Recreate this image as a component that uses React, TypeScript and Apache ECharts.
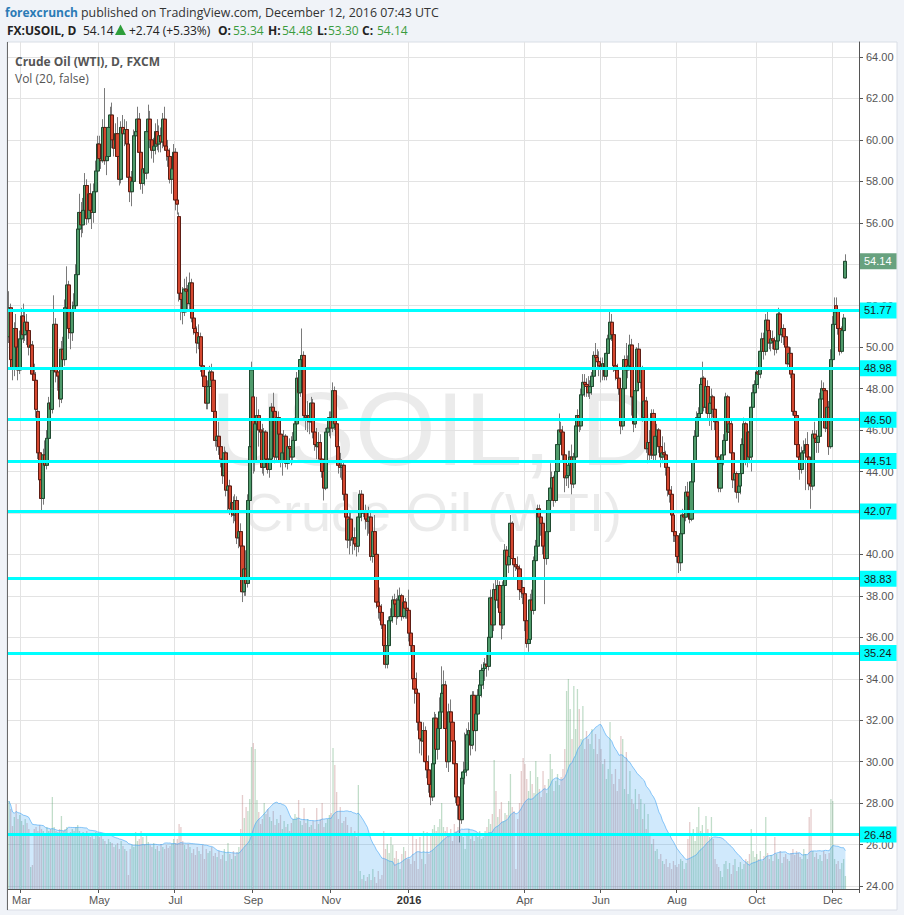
import React, { useEffect, useRef } from 'react';
import * as echarts from 'echarts';

// ---------------- Daily candles FX:USOIL (FXCM) : [open, close, low, high] ----------------
const c2015_02 = [[50.5,51.9,50.2,52.7],[51.9,49.4,49.0,52.1],[49.4,49.0,48.4,50.1],[49.0,50.9,48.6,51.2],[50.9,50.0,49.5,51.6],[50.0,48.9,48.4,50.4],[48.9,50.4,48.7,50.8]];
const c2015_03 = [[50.4,51.5,50.1,51.9],[51.5,50.6,50.2,52.1],[50.6,51.2,50.3,51.7],[51.2,50.8,50.1,51.6],[50.8,50.0,49.6,51.2],[50.0,50.1,49.5,50.7],[50.1,48.7,48.4,50.3],[48.7,48.4,47.6,49.2],[48.4,47.0,46.6,48.8],[46.9,44.9,44.6,47.2],[44.9,43.6,43.3,45.2],[43.6,42.7,42.1,44.0],[42.7,44.8,42.4,45.1],[44.8,44.3,43.8,45.5],[44.3,45.6,44.1,46.0],[45.6,47.3,45.4,47.6],[47.3,47.0,46.5,47.9],[47.0,48.9,46.8,49.3],[48.9,51.1,48.7,52.5],[51.1,48.8,48.3,51.4],[48.8,48.6,47.9,49.4],[48.6,47.5,47.1,49.0]];
const c2015_04 = [[47.5,49.9,47.3,50.3],[49.9,49.4,48.6,50.5],[49.4,51.9,49.1,52.3],[51.9,53.0,51.6,53.9],[53.0,50.9,50.4,53.2],[50.9,50.7,49.9,51.6],[50.7,51.8,50.3,52.2],[51.8,52.0,51.2,52.6],[52.0,53.5,51.7,54.0],[53.5,55.7,53.3,56.2],[55.7,56.5,55.4,57.4],[56.5,55.9,55.3,57.0],[55.9,56.6,55.5,57.2],[56.6,57.8,56.3,58.4],[57.8,56.2,55.9,58.1],[56.2,57.4,56.0,57.8],[57.4,56.6,56.2,57.9],[56.6,56.5,55.7,57.2],[56.5,57.5,56.0,57.9],[57.5,58.5,57.0,59.0],[58.5,59.8,58.2,60.2]];
const c2015_05 = [[59.8,59.1,58.7,60.2],[59.1,59.0,58.6,59.8],[59.0,60.6,58.9,61.0],[60.6,59.0,58.8,62.5],[59.0,59.2,58.3,59.6],[59.2,60.6,59.0,61.0],[60.6,61.2,60.0,61.6],[61.2,60.0,59.6,61.8],[60.0,59.6,59.2,61.0],[59.6,60.3,59.4,60.8],[60.3,59.2,58.9,61.1],[59.2,58.1,57.8,60.5],[58.1,60.6,57.9,60.9],[60.6,60.3,59.8,61.2],[60.3,60.5,59.7,61.0],[60.5,59.8,59.4,60.9],[59.8,58.2,57.8,60.1],[58.2,57.5,57.0,58.7],[57.5,58.0,56.8,58.5],[58.0,60.2,57.8,60.5]];
const c2015_06 = [[60.2,60.4,59.6,60.9],[60.4,61.0,59.9,61.6],[61.0,59.4,59.1,61.3],[59.4,57.9,57.6,59.7],[57.9,58.6,57.4,59.0],[58.6,58.4,57.8,59.3],[58.4,60.4,58.1,60.8],[60.4,61.0,60.1,61.7],[61.0,60.0,59.6,61.4],[60.0,59.5,59.1,60.4],[59.5,59.7,58.9,60.1],[59.7,60.4,59.3,60.8],[60.4,59.8,59.5,61.0],[59.8,60.2,59.4,60.7],[60.2,59.9,59.4,60.6],[59.9,61.0,59.6,61.3],[61.0,59.7,59.5,61.6],[59.7,59.5,59.0,60.3],[59.5,59.2,58.7,60.0],[59.2,58.1,57.9,59.6],[58.1,58.6,57.4,59.0],[58.6,59.4,58.2,59.8]];
const c2015_07 = [[59.4,57.1,56.6,59.6],[57.1,56.9,56.4,57.8],[56.3,52.6,52.2,56.5],[52.6,52.3,51.3,53.0],[52.3,51.7,51.1,52.9],[51.7,52.8,51.5,53.3],[52.8,52.7,52.2,53.4],[52.7,52.1,51.7,53.0],[52.1,53.1,51.8,53.6],[53.1,51.4,51.2,53.3],[51.4,50.9,50.6,51.8],[50.9,50.7,50.4,51.3],[50.7,50.2,49.7,51.0],[50.2,50.5,49.9,51.1],[50.5,49.1,48.8,50.7],[49.1,48.6,48.3,49.6],[48.6,48.1,47.7,49.0],[48.1,47.3,47.0,48.3],[47.3,48.1,47.0,48.4],[48.1,48.8,47.6,49.1],[48.8,48.4,48.0,49.2],[48.4,46.9,46.6,48.6]];
const c2015_08 = [[46.9,45.5,45.2,47.1],[45.5,45.7,45.0,46.2],[45.7,45.2,44.8,46.4],[45.2,44.6,44.2,45.6],[44.6,43.8,43.4,44.9],[43.8,44.9,43.6,45.2],[44.9,43.1,42.8,45.0],[43.1,43.3,42.0,43.8],[43.3,42.2,41.9,43.6],[42.2,42.5,41.8,42.9],[42.5,41.9,41.5,42.8],[41.9,42.6,41.6,42.9],[42.6,40.8,40.5,42.8],[40.8,41.1,40.3,41.6],[41.1,40.4,39.9,41.5],[40.4,38.2,37.7,40.6],[38.2,39.3,38.0,39.8],[39.3,38.6,38.0,40.2],[38.6,42.6,38.4,42.9],[42.6,45.2,42.3,45.5],[45.2,48.9,44.5,49.3]];
const c2015_09 = [[47.6,44.5,43.9,48.0],[44.5,46.3,44.0,46.6],[46.3,46.7,45.9,47.6],[46.7,46.0,45.2,47.0],[46.0,45.9,44.6,46.6],[45.9,44.2,43.9,46.3],[44.2,45.9,43.8,46.1],[45.9,44.6,44.3,46.0],[44.6,44.1,43.9,44.9],[44.1,44.6,43.7,44.9],[44.6,47.1,44.4,47.3],[47.1,46.9,46.4,47.8],[46.9,44.7,44.4,47.0],[44.7,46.6,44.5,46.9],[46.6,45.8,45.3,46.9],[45.8,44.5,44.2,46.1],[44.5,44.9,43.8,45.2],[44.9,45.7,44.6,46.0],[45.7,44.4,44.2,45.8],[44.4,45.2,44.1,45.5],[45.2,45.1,44.6,45.6]];
const c2015_10 = [[45.1,44.7,44.3,45.7],[44.7,45.5,44.4,45.9],[45.5,46.3,45.2,46.6],[46.3,48.5,46.1,48.8],[48.5,47.8,47.2,49.1],[47.8,49.4,47.6,49.6],[49.4,49.6,48.9,50.9],[49.6,46.7,46.5,49.8],[46.7,46.6,46.0,47.3],[46.6,46.7,45.9,47.4],[46.7,46.4,45.8,47.1],[46.4,47.3,46.1,47.6],[47.3,45.9,45.6,47.5],[45.9,45.3,45.0,46.2],[45.3,45.2,44.6,46.1],[45.2,45.4,44.8,45.9],[45.4,44.6,44.3,45.8],[44.6,44.0,43.7,44.8],[44.0,43.2,42.6,44.2],[43.2,45.9,43.1,46.1],[45.9,46.1,45.5,46.5],[46.1,46.6,45.7,46.9]];
const c2015_11 = [[46.6,46.1,45.6,46.9],[46.1,47.9,45.9,48.3],[47.9,46.3,46.0,48.1],[46.3,45.2,44.9,46.6],[45.2,44.3,43.9,45.5],[44.3,44.2,43.7,44.9],[44.2,44.3,43.6,44.6],[44.3,42.9,42.6,44.5],[42.9,41.8,41.5,43.2],[41.8,40.7,40.3,42.0],[40.7,41.7,40.0,42.0],[41.7,40.7,40.4,42.1],[40.7,40.8,40.0,41.2],[40.8,40.5,40.2,41.3],[40.5,40.4,39.9,41.0],[40.4,41.8,40.1,42.0],[41.8,42.9,41.5,43.1],[42.9,42.0,41.6,43.1],[42.0,42.1,41.8,42.4],[42.1,41.7,41.2,42.4],[41.7,41.6,40.9,42.0]];
const c2015_12 = [[41.6,41.8,41.0,42.3],[41.8,39.9,39.7,42.0],[39.9,41.1,39.6,41.6],[41.1,40.0,39.5,41.9],[40.0,37.7,37.4,40.2],[37.7,37.5,36.9,38.3],[37.5,37.2,36.8,38.4],[37.2,36.6,36.4,37.6],[36.6,35.6,35.3,36.8],[35.6,34.7,34.5,35.9],[34.7,35.6,34.5,35.9],[35.6,36.8,35.2,37.0],[36.8,37.0,36.3,37.4],[37.0,37.8,36.7,38.0],[37.8,37.6,37.2,38.1],[37.6,37.0,36.6,37.9],[37.0,37.8,36.9,38.3],[37.8,38.0,37.5,38.4],[38.0,37.0,36.8,38.1],[37.0,37.7,36.9,38.0],[37.7,37.4,36.9,37.9],[37.4,37.3,36.9,37.6]];
const c2016_01 = [[37.3,36.2,35.8,38.3],[36.2,35.6,35.2,36.6],[35.6,34.0,33.8,35.8],[34.0,33.5,32.8,34.4],[33.5,33.3,32.9,34.3],[33.3,31.9,31.5,33.5],[31.9,31.1,30.4,32.1],[31.1,31.0,30.3,31.8],[31.0,31.5,30.4,31.9],[31.5,30.0,29.6,31.7],[30.0,29.6,29.2,30.2],[29.6,28.9,28.5,30.3],[28.9,28.3,27.9,29.5],[28.3,29.9,28.1,30.4],[29.9,32.1,29.7,32.4],[32.1,30.6,30.3,32.3],[30.6,31.6,30.1,32.0],[31.6,32.4,30.9,33.1],[32.4,33.3,31.9,34.6],[33.3,33.7,32.8,34.4]];
const c2016_02 = [[33.7,31.6,31.3,33.9],[31.6,30.0,29.7,32.0],[30.0,32.4,29.5,32.8],[32.4,31.9,31.0,33.0],[31.9,31.0,30.5,32.3],[31.0,29.9,29.3,31.2],[29.9,28.3,28.0,30.3],[28.3,27.9,27.2,29.6],[27.9,27.2,26.1,28.3],[27.2,29.2,27.0,29.5],[29.2,29.5,28.9,30.0],[29.5,29.6,28.9,31.4],[29.6,31.3,29.3,31.6],[31.3,31.5,30.7,31.9],[31.5,30.8,30.3,31.7],[30.8,33.2,30.6,33.4],[33.2,31.5,31.3,33.4],[31.5,32.3,30.5,32.6],[32.3,33.2,32.0,33.5],[33.2,33.7,32.9,34.3],[33.7,34.4,33.1,34.7]];
const c2016_03 = [[34.4,34.5,33.5,34.8],[34.5,34.7,33.9,35.0],[34.7,34.6,34.1,35.2],[34.6,36.0,34.4,36.4],[36.0,37.9,35.9,38.3],[37.9,36.6,36.2,38.0],[36.6,38.3,36.3,38.6],[38.3,37.8,37.1,38.8],[37.8,38.5,37.4,38.9],[38.5,37.2,36.9,38.7],[37.2,36.6,35.9,37.5],[36.6,38.5,36.4,38.7],[38.5,40.2,38.3,40.5],[40.2,39.5,38.8,40.4],[39.5,39.9,39.1,40.6],[39.9,41.5,39.6,41.9],[41.5,39.8,39.6,41.6],[39.8,39.5,38.9,40.0],[39.5,39.4,39.2,39.7],[39.4,39.3,38.9,39.9],[39.3,38.3,37.8,39.5],[38.3,38.2,37.9,39.0],[38.4,38.1,37.6,38.9]];
const c2016_04 = [[38.1,36.8,36.3,38.3],[36.8,35.7,35.5,37.0],[35.7,35.9,35.3,36.3],[35.9,37.8,35.7,38.1],[37.8,37.3,36.9,38.3],[37.3,39.7,37.1,39.9],[39.7,40.4,39.3,40.7],[40.4,42.2,40.2,42.4],[42.2,41.8,41.3,42.4],[41.8,41.5,40.9,42.0],[41.5,40.4,40.0,41.7],[40.4,39.8,37.6,40.6],[39.8,41.1,39.5,41.5],[41.1,42.6,40.9,42.8],[42.6,43.2,42.3,44.4],[43.2,43.7,42.9,44.0],[43.7,42.6,42.3,43.8],[42.6,44.0,42.5,44.2],[44.0,45.3,43.7,45.5],[45.3,46.0,44.9,46.8],[46.0,45.9,45.4,46.4]];
const c2016_05 = [[45.9,44.8,44.5,46.2],[44.8,43.7,43.0,45.0],[43.7,43.8,43.3,44.5],[43.8,44.3,43.2,45.0],[44.3,44.7,43.8,45.0],[44.7,43.4,42.9,45.3],[43.4,44.7,43.2,44.9],[44.7,46.2,44.6,46.6],[46.2,46.7,45.7,47.0],[46.7,46.2,45.9,46.9],[46.2,47.7,46.0,48.0],[47.7,48.3,47.6,48.7],[48.3,48.2,47.6,48.7],[48.2,48.1,47.6,48.5],[48.1,47.8,47.6,48.6],[47.8,48.1,47.5,48.4],[48.1,48.6,47.7,48.8],[48.6,49.6,48.5,49.8],[49.6,49.5,49.0,50.2],[49.5,49.3,48.9,49.9],[49.3,49.1,48.6,49.8]];
const c2016_06 = [[49.1,49.0,48.3,49.5],[49.0,49.2,48.4,49.5],[49.2,48.6,48.4,49.6],[48.6,49.7,48.4,49.9],[49.7,50.4,49.5,50.6],[50.4,51.2,50.1,51.7],[51.2,50.6,50.3,51.6],[50.6,49.1,48.8,50.7],[49.1,48.9,48.4,49.5],[48.9,48.5,48.2,49.2],[48.5,48.0,47.7,48.9],[48.0,46.2,45.8,48.2],[46.2,48.0,46.0,48.2],[48.0,49.4,47.8,49.6],[49.4,48.9,48.6,50.2],[48.9,49.1,48.5,49.6],[49.1,50.1,48.9,50.6],[50.1,47.6,46.7,50.4],[47.6,46.3,45.9,47.7],[46.3,47.9,46.1,48.0],[47.9,49.9,47.7,50.0],[49.9,48.3,48.1,50.2]];
const c2016_07 = [[48.3,49.0,48.0,49.3],[49.0,46.6,46.4,49.1],[46.6,47.4,46.2,47.9],[47.4,45.1,44.9,47.6],[45.1,45.4,44.4,45.9],[45.4,44.8,44.5,46.0],[44.8,46.8,44.6,47.0],[46.8,44.8,44.5,47.0],[44.8,45.7,44.5,46.0],[45.7,46.0,45.2,46.3],[46.0,45.2,44.9,46.1],[45.2,44.7,44.2,45.4],[44.7,44.9,44.4,45.7],[44.9,44.8,44.2,45.4],[44.8,44.2,43.8,45.0],[44.2,43.1,42.8,44.3],[43.1,42.9,42.5,43.4],[42.9,41.9,41.5,43.3],[41.9,41.1,40.6,42.1],[41.1,40.9,40.6,41.7]];
const c2016_08 = [[40.9,39.9,39.6,41.0],[39.9,39.6,39.1,40.1],[39.6,41.0,39.2,41.2],[41.0,41.9,40.7,42.2],[41.9,41.8,41.2,42.4],[41.8,43.0,41.6,43.3],[43.0,42.8,42.3,43.5],[42.8,41.7,41.5,43.1],[41.7,43.5,41.6,43.7],[43.5,44.5,43.2,44.6],[44.5,45.7,44.3,46.0],[45.7,46.6,45.4,46.9],[46.6,46.8,45.7,47.1],[46.8,48.2,46.6,48.5],[48.2,48.5,47.9,49.3],[48.5,47.1,46.9,48.6],[47.1,48.1,46.8,48.3],[48.1,46.8,46.5,48.4],[46.8,47.3,46.2,47.6],[47.3,47.6,46.0,48.0],[47.6,47.0,46.6,47.7],[47.0,46.4,46.0,47.1],[46.4,44.7,44.5,46.5]];
const c2016_09 = [[44.7,43.2,43.0,44.9],[43.2,44.4,43.0,44.6],[44.4,44.8,43.9,45.1],[44.8,45.5,44.3,45.8],[45.5,47.6,45.3,47.8],[47.6,45.9,45.6,47.7],[45.9,46.3,44.9,46.5],[46.3,44.9,44.6,46.5],[44.9,43.6,43.2,45.0],[43.6,43.9,43.0,44.1],[43.9,43.0,42.7,44.0],[43.0,43.3,42.5,43.7],[43.3,43.9,42.9,44.1],[43.9,45.3,43.5,45.6],[45.3,46.3,45.1,46.6],[46.3,44.5,44.3,46.4],[44.5,45.9,44.2,46.1],[45.9,44.7,44.4,46.0],[44.7,47.1,44.0,47.4],[47.1,47.8,46.8,48.2],[47.8,48.2,47.4,48.4]];
const c2016_10 = [[48.2,48.8,48.0,49.0],[48.8,48.7,48.0,49.1],[48.7,49.8,48.5,49.9],[49.8,50.4,49.5,50.7],[50.4,49.8,49.4,50.7],[49.8,51.3,49.6,51.6],[51.3,50.8,50.4,51.7],[50.8,50.2,49.9,51.0],[50.2,50.4,49.8,50.7],[50.4,50.3,49.9,50.8],[50.3,49.9,49.6,50.5],[49.9,50.3,49.7,50.6],[50.3,51.6,50.0,51.9],[51.6,50.6,50.3,51.8],[50.6,50.9,50.2,51.1],[50.9,50.5,50.1,51.1],[50.5,50.0,49.6,50.7],[50.0,49.2,48.9,50.2],[49.2,49.7,48.8,49.9],[49.7,48.7,48.5,50.0],[48.7,46.9,46.7,48.8]];
const c2016_11 = [[46.9,46.7,46.2,47.4],[46.7,45.3,45.0,46.9],[45.3,44.7,44.3,45.6],[44.7,44.1,43.6,45.0],[44.1,44.9,43.9,45.2],[44.9,45.0,44.4,45.5],[45.0,45.3,43.1,45.6],[45.3,44.7,44.3,45.9],[44.7,43.4,43.1,44.8],[43.4,43.3,42.2,43.9],[43.3,45.8,43.1,46.0],[45.8,45.6,45.1,46.4],[45.6,45.4,44.9,46.0],[45.4,45.7,44.9,46.2],[45.7,47.5,45.6,47.8],[47.5,48.0,47.4,48.4],[48.0,47.9,47.3,48.3],[47.9,46.1,45.9,48.0],[46.1,47.1,45.9,47.3],[47.1,45.2,44.8,47.4],[45.2,49.4,45.1,49.9]];
const c2016_12 = [[49.4,51.1,49.2,51.5],[51.1,51.7,50.8,52.4],[52.0,51.8,51.1,52.4],[51.8,50.9,50.6,51.9],[50.9,49.8,49.6,51.0],[49.8,50.8,49.7,51.0],[50.8,51.4,50.5,51.6],[53.34,54.14,53.30,54.48]];

// ---------------- Daily volume (relative units) ----------------
const v2015_02 = [88,80,63,72,85,70,74];
const v2015_03 = [68,64,70,66,60,22,24,60,62,58,64,60,58,56,62,58,60,92,62,58,57,60];
const v2015_04 = [73,58,60,62,55,57,60,58,62,64,58,55,57,54,58,56,52,55,50,57,53];
const v2015_05 = [52,55,50,48,45,50,47,46,42,44,46,40,48,43,40,38,14,40,44,42];
const v2015_06 = [57,48,50,58,52,45,55,47,44,42,46,40,43,38,45,42,40,44,41,43,45,50];
const v2015_07 = [46,50,65,62,48,44,40,45,42,36,40,34,42,38,35,44,30,40,36,38,42,33];
const v2015_08 = [36,32,38,30,34,40,28,46,35,30,38,33,37,42,60,94,71,82,78,90,142];
const v2015_09 = [146,140,89,77,65,70,86,75,80,72,68,78,64,70,66,74,60,68,62,65,58];
const v2015_10 = [66,70,75,72,89,68,64,81,66,70,62,64,68,60,81,65,70,86,62,66,70,74];
const v2015_11 = [76,141,124,97,70,82,66,68,72,64,55,62,56,58,52,104,18,10,14,8,12];
const v2015_12 = [15,9,20,12,6,18,10,14,58,40,45,36,52,44,31,38,30,20,35,42,38,30];
const v2016_01 = [30,25,55,28,50,20,52,30,58,25,57,35,55,60,64,58,62,70,86,62];
const v2016_02 = [58,62,55,60,48,65,58,62,66,55,52,40,56,60,50,54,48,56,52,58,50];
const v2016_03 = [52,58,62,70,65,75,129,98,72,80,87,68,76,74,88,115,82,78,20,70,86,118,131];
const v2016_04 = [125,110,98,118,105,96,128,112,100,92,118,104,96,110,135,120,98,108,115,104,112];
const v2016_05 = [120,140,198,210,180,150,203,160,200,180,150,183,140,158,150,145,160,140,155,135,150];
const v2016_06 = [140,125,130,110,120,167,115,105,120,98,110,153,150,100,137,95,118,90,85,100,80,95];
const v2016_07 = [90,70,85,60,75,55,45,50,38,40,30,35,28,25,30,22,26,20,28,24];
const v2016_08 = [22,25,30,28,20,26,50,67,55,60,48,62,82,58,64,55,73,60,52,72,50,30,25];
const v2016_09 = [22,18,12,25,28,20,26,15,24,30,18,22,27,20,25,30,28,35,60,38,32];
const v2016_10 = [35,30,38,28,33,72,36,30,34,28,52,35,30,38,26,32,35,30,28,36,40];
const v2016_11 = [34,38,36,32,30,40,35,30,72,80,38,32,36,30,34,28,38,35,30,36,90];
const v2016_12 = [88,30,25,28,20,26,30,13];

// ---------------- Month order and axis labels ----------------
const monthKeys = ['2015-02','2015-03','2015-04','2015-05','2015-06','2015-07','2015-08','2015-09','2015-10','2015-11','2015-12','2016-01','2016-02','2016-03','2016-04','2016-05','2016-06','2016-07','2016-08','2016-09','2016-10','2016-11','2016-12'];
const monthTickLabels = ['', 'Mar', '', 'May', '', 'Jul', '', 'Sep', '', 'Nov', '', '2016', '', '', 'Apr', '', 'Jun', '', 'Aug', '', 'Oct', '', 'Dec'];
const candleMonths = [c2015_02,c2015_03,c2015_04,c2015_05,c2015_06,c2015_07,c2015_08,c2015_09,c2015_10,c2015_11,c2015_12,c2016_01,c2016_02,c2016_03,c2016_04,c2016_05,c2016_06,c2016_07,c2016_08,c2016_09,c2016_10,c2016_11,c2016_12];
const volumeMonths = [v2015_02,v2015_03,v2015_04,v2015_05,v2015_06,v2015_07,v2015_08,v2015_09,v2015_10,v2015_11,v2015_12,v2016_01,v2016_02,v2016_03,v2016_04,v2016_05,v2016_06,v2016_07,v2016_08,v2016_09,v2016_10,v2016_11,v2016_12];
const rightPadBars = 7;

// horizontal support / resistance levels
const levelLines = [51.77, 48.98, 46.50, 44.51, 42.07, 38.83, 35.24, 26.48];
const volMaPeriod = 20;

// price axis (tick labels fully covered by the level boxes in the original are not drawn)
const priceMin = 24;
const priceMax = 64;
const priceStep = 2;
const coveredPriceTicks = [42, 54];

const AXIS_FONT = '"Liberation Sans", Arial, sans-serif';
const UI_FONT = '"Open Sans", "Noto Sans", sans-serif';

export default function App() {
  const ref = useRef<HTMLDivElement>(null);

  useEffect(() => {
    if (!ref.current) return;
    const chart = echarts.init(ref.current, undefined, { renderer: 'svg' });

    const cats: string[] = [];
    const candles: number[][] = [];
    const vols: number[] = [];
    const tickAt: Record<number, string> = {};
    candleMonths.forEach((m, mi) => {
      if (monthTickLabels[mi]) tickAt[cats.length] = monthTickLabels[mi];
      m.forEach((c, j) => {
        cats.push(monthKeys[mi] + '#' + (j + 1));
        candles.push(c);
        vols.push(volumeMonths[mi][j]);
      });
    });
    for (let k = 0; k < rightPadBars; k++) cats.push('pad' + k);

    const ma = vols.map((_, i) => {
      const s = Math.max(0, i - volMaPeriod + 1);
      let sum = 0;
      for (let k = s; k <= i; k++) sum += vols[k];
      return +(sum / (i - s + 1)).toFixed(2);
    });

    const isTick = (idx: number) => tickAt[idx] !== undefined;
    const last = candles[candles.length - 1];
    const lastClose = last[1];

    const txt = (x: number, y: number, text: string, fill: string, font: string, z = 10) => ({
      type: 'text', x, y, z, silent: true,
      style: { text, fill, font, align: 'left', verticalAlign: 'middle', textAlign: 'left', textVerticalAlign: 'middle' },
    });
    const green = '#3a9c3e';
    const dark = '#222';

    const levelLabel = (bg: string, color: string) => ({
      show: true, position: 'end', distance: 1,
      formatter: (p: any) => Number(p.value).toFixed(2),
      backgroundColor: bg, color, padding: [3, 5, 2, 4], fontSize: 11, fontFamily: AXIS_FONT,
    });

    const option: any = {
      animation: false,
      backgroundColor: 'transparent',
      grid: [
        { left: 8, right: 45, top: 57, bottom: 29 },
        { left: 8, right: 45, top: 42, bottom: 26 },
      ],
      xAxis: [
        { type: 'category', gridIndex: 0, data: cats, boundaryGap: true, show: false },
        {
          type: 'category', gridIndex: 1, data: cats, boundaryGap: true,
          axisLine: { show: true, lineStyle: { color: '#555', width: 1 } },
          axisTick: { show: true, interval: (i: number) => isTick(i), length: 4, lineStyle: { color: '#555' } },
          axisLabel: {
            interval: (i: number) => isTick(i),
            formatter: (_v: string, i: number) => (tickAt[i] === '2016' ? '{b|2016}' : tickAt[i] || ''),
            color: '#555', fontSize: 11, fontFamily: AXIS_FONT, margin: 5,
            rich: { b: { fontWeight: 'bold', color: '#333', fontSize: 11, fontFamily: AXIS_FONT } },
          },
          splitLine: { show: true, interval: (i: number) => isTick(i), lineStyle: { color: '#e3e3e3', width: 1 } },
        },
      ],
      yAxis: [
        {
          type: 'value', gridIndex: 0, position: 'right', min: priceMin, max: priceMax, interval: priceStep,
          axisLine: { show: false },
          axisTick: { show: true, length: 4, lineStyle: { color: '#555' } },
          axisLabel: {
            formatter: (v: number) => (coveredPriceTicks.includes(v) ? '' : v.toFixed(2)),
            color: '#555', fontSize: 11, fontFamily: AXIS_FONT, margin: 7,
          },
          splitLine: { show: true, lineStyle: { color: '#e3e3e3', width: 1 } },
        },
        {
          type: 'value', gridIndex: 1, position: 'right', min: 0, max: 847,
          axisLine: { show: true, lineStyle: { color: '#555', width: 1 } },
          axisTick: { show: false }, axisLabel: { show: false }, splitLine: { show: false },
        },
      ],
      graphic: [
        { type: 'rect', z: -10, silent: true, shape: { x: 7, y: 42, width: 890, height: 868 }, style: { fill: '#ffffff', stroke: '#d9dee6', lineWidth: 1 } },
        { type: 'line', z: 5, silent: true, shape: { x1: 7.5, y1: 42, x2: 7.5, y2: 910 }, style: { stroke: '#6a6a6a', lineWidth: 1 } },
        { type: 'text', z: -5, silent: true, x: 433, y: 429, style: { text: 'USOIL, D', fill: 'rgba(0,0,0,0.08)', font: '104px ' + AXIS_FONT, align: 'center', verticalAlign: 'middle', textAlign: 'center', textVerticalAlign: 'middle' } },
        { type: 'text', z: -5, silent: true, x: 433, y: 512, style: { text: 'Crude Oil (WTI)', fill: 'rgba(0,0,0,0.08)', font: '54px ' + AXIS_FONT, align: 'center', verticalAlign: 'middle', textAlign: 'center', textVerticalAlign: 'middle' } },
        txt(5, 12, 'forexcrunch', '#2b7bb6', 'bold 12px ' + UI_FONT),
        txt(81, 12, 'published on TradingView.com, December 12, 2016 07:43 UTC', '#333', '12.4px ' + UI_FONT),
        txt(7, 30, 'FX:USOIL, D', dark, 'bold 12px ' + UI_FONT),
        txt(83, 30, '54.14', dark, '12px ' + UI_FONT),
        { type: 'polygon', z: 10, silent: true, shape: { points: [[115, 35], [120.5, 24.5], [126, 35]] }, style: { fill: '#2e9e3a' } },
        txt(129, 30, '+2.74 (+5.33%)', dark, '12px ' + UI_FONT),
        txt(218, 30, 'O:', dark, 'bold 12px ' + UI_FONT),
        txt(233, 30, '53.34', green, '12px ' + UI_FONT),
        txt(268, 30, 'H:', dark, 'bold 12px ' + UI_FONT),
        txt(282, 30, '54.48', green, '12px ' + UI_FONT),
        txt(317, 30, 'L:', dark, 'bold 12px ' + UI_FONT),
        txt(328, 30, '53.30', green, '12px ' + UI_FONT),
        txt(362, 30, 'C:', dark, 'bold 12px ' + UI_FONT),
        txt(377, 30, '54.14', green, '12px ' + UI_FONT),
        txt(15, 61, 'Crude Oil (WTI), D, FXCM', '#555', 'bold 12px ' + UI_FONT),
        txt(15, 78, 'Vol (20, false)', '#555', '12px ' + UI_FONT),
      ],
      series: [
        {
          name: 'Volume', type: 'bar', xAxisIndex: 1, yAxisIndex: 1, barWidth: 1.3, silent: true,
          data: vols.map((v, i) => ({
            value: v,
            itemStyle: { color: candles[i][1] >= candles[i][0] ? 'rgba(83,160,105,0.36)' : 'rgba(175,95,95,0.32)' },
          })),
        },
        {
          name: 'Vol MA', type: 'line', xAxisIndex: 1, yAxisIndex: 1, data: ma, showSymbol: false, symbol: 'none', silent: true,
          lineStyle: { color: 'rgba(66,165,245,0.6)', width: 1 },
          areaStyle: { color: 'rgba(33,150,243,0.30)' },
        },
        {
          name: 'wick', type: 'candlestick', xAxisIndex: 0, yAxisIndex: 0, barWidth: 3.6, silent: true, large: false,
          data: candles,
          itemStyle: { color: 'rgba(0,0,0,0)', color0: 'rgba(0,0,0,0)', borderColor: '#7a7a7a', borderColor0: '#7a7a7a', borderWidth: 1 },
        },
        {
          name: 'USOIL', type: 'candlestick', xAxisIndex: 0, yAxisIndex: 0, barWidth: 3.6, silent: true, large: false,
          data: candles.map(([o, c]) => [o, c, Math.min(o, c), Math.max(o, c)]),
          itemStyle: { color: '#4f9b6b', color0: '#d5472f', borderColor: '#1f4a30', borderColor0: '#5e1d14', borderWidth: 1 },
          markLine: {
            symbol: ['none', 'none'], silent: true, animation: false,
            data: [
              ...levelLines.map((v) => ({
                yAxis: v,
                lineStyle: { color: '#00ffff', width: 3, type: 'solid' },
                label: levelLabel('#00ffff', '#1a1a1a'),
              })),
              { yAxis: lastClose, lineStyle: { color: 'rgba(0,0,0,0)', width: 1, type: 'solid' }, label: levelLabel('#68a27f', '#ffffff') },
            ],
          },
        },
      ],
    };

    chart.setOption(option);
    return () => chart.dispose();
  }, []);

  return (
    <div style={{ position: 'fixed', left: 0, top: 0, width: 904, height: 915, background: '#f0f3f8' }}>
      <div ref={ref} style={{ width: 904, height: 915 }} />
    </div>
  );
}
